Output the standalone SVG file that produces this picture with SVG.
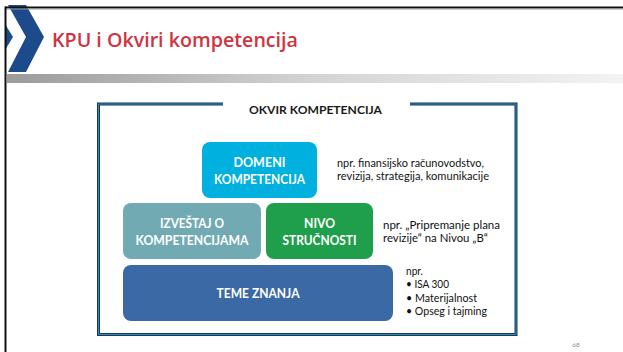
<svg xmlns="http://www.w3.org/2000/svg" width="623" height="352" viewBox="0 0 623 352">
<defs>
<linearGradient id="bar" x1="0" y1="0" x2="1" y2="0">
<stop offset="0" stop-color="#9b9b9b"/>
<stop offset="0.5" stop-color="#d4d4d4"/>
<stop offset="1" stop-color="#f3f3f3"/>
</linearGradient>
<style>
.box-t{font-family:Lato,"Liberation Sans",sans-serif;font-weight:bold;font-size:12.5px;fill:#ffffff;text-anchor:middle}
.note{font-family:Lato,"Liberation Sans",sans-serif;font-size:10.5px;fill:#111111}
</style>
</defs>
<rect width="623" height="352" fill="#ffffff"/>
<g id="header">
<polygon points="8,5 26,5 44,37 26,72 8,72 26,37" fill="#1c4a8a"/>
<polygon points="5,24 13,37 5,50" fill="#1c4a8a"/>
<rect x="5" y="6.5" width="618" height="2" fill="#111111"/>
<rect x="5" y="8.5" width="618" height="1" fill="#9a9a9a"/>
<rect x="4.5" y="6.5" width="2" height="346" fill="#111111"/>
<rect x="7" y="74" width="616" height="9" fill="url(#bar)"/>
<text x="52" y="47" font-family="'Open Sans','Noto Sans',sans-serif" font-weight="600" font-size="20" fill="#cf3441" textLength="246" lengthAdjust="spacingAndGlyphs">KPU i Okviri kompetencija</text>
</g>
<g id="frame">
<path d="M223,104 H98.5 V334.5 H516 V104 H410" fill="none" stroke="#173a5a" stroke-width="3"/>
<path d="M223,104 H98.5 V334.5 H516 V104 H410" fill="none" stroke="#2d8ab5" stroke-width="1"/>
<text x="315.5" y="114" font-family="Lato,'Liberation Sans',sans-serif" font-weight="bold" font-size="11.5" fill="#1a1a1a" text-anchor="middle" textLength="133" lengthAdjust="spacingAndGlyphs">OKVIR KOMPETENCIJA</text>
</g>
<g id="domeni">
<rect x="202" y="142" width="115" height="56" rx="8" fill="#00b0df"/>
<text class="box-t" x="259.5" y="167" textLength="52" lengthAdjust="spacingAndGlyphs">DOMENI</text>
<text class="box-t" x="259.5" y="184" textLength="91" lengthAdjust="spacingAndGlyphs">KOMPETENCIJA</text>
</g>
<g id="izvestaj">
<rect x="123" y="203" width="138" height="56" rx="8" fill="#72aab3"/>
<text class="box-t" x="192" y="228" textLength="64" lengthAdjust="spacingAndGlyphs">IZVEŠTAJ O</text>
<text class="box-t" x="192" y="245" textLength="113" lengthAdjust="spacingAndGlyphs">KOMPETENCIJAMA</text>
</g>
<g id="nivo">
<rect x="266" y="203" width="107" height="56" rx="8" fill="#1f9f4b"/>
<text class="box-t" x="319.5" y="228" textLength="31" lengthAdjust="spacingAndGlyphs">NIVO</text>
<text class="box-t" x="319.5" y="245" textLength="74" lengthAdjust="spacingAndGlyphs">STRUČNOSTI</text>
</g>
<g id="teme">
<rect x="123" y="265" width="270" height="56" rx="8" fill="#3b69a6"/>
<text class="box-t" x="258" y="298" textLength="83" lengthAdjust="spacingAndGlyphs">TEME ZNANJA</text>
</g>
<g id="notes">
<text class="note" x="337" y="167" textLength="147" lengthAdjust="spacingAndGlyphs">npr. finansijsko računovodstvo,</text>
<text class="note" x="337" y="180" textLength="152" lengthAdjust="spacingAndGlyphs">revizija, strategija, komunikacije</text>
<text class="note" x="383" y="229" textLength="117" lengthAdjust="spacingAndGlyphs">npr. „Pripremanje plana</text>
<text class="note" x="383" y="242" textLength="105" lengthAdjust="spacingAndGlyphs">revizije“ na Nivou „B“</text>
<text class="note" x="406" y="275" textLength="17" lengthAdjust="spacingAndGlyphs">npr.</text>
<text class="note" x="406" y="288" textLength="43" lengthAdjust="spacingAndGlyphs">• ISA 300</text>
<text class="note" x="406" y="302" textLength="71" lengthAdjust="spacingAndGlyphs">• Materijalnost</text>
<text class="note" x="406" y="315" textLength="81" lengthAdjust="spacingAndGlyphs">• Opseg i tajming</text>
</g>
<text x="576" y="347" font-family="Lato,'Liberation Sans',sans-serif" font-size="6.5" fill="#8a8a8a" text-anchor="middle">68</text>
</svg>
